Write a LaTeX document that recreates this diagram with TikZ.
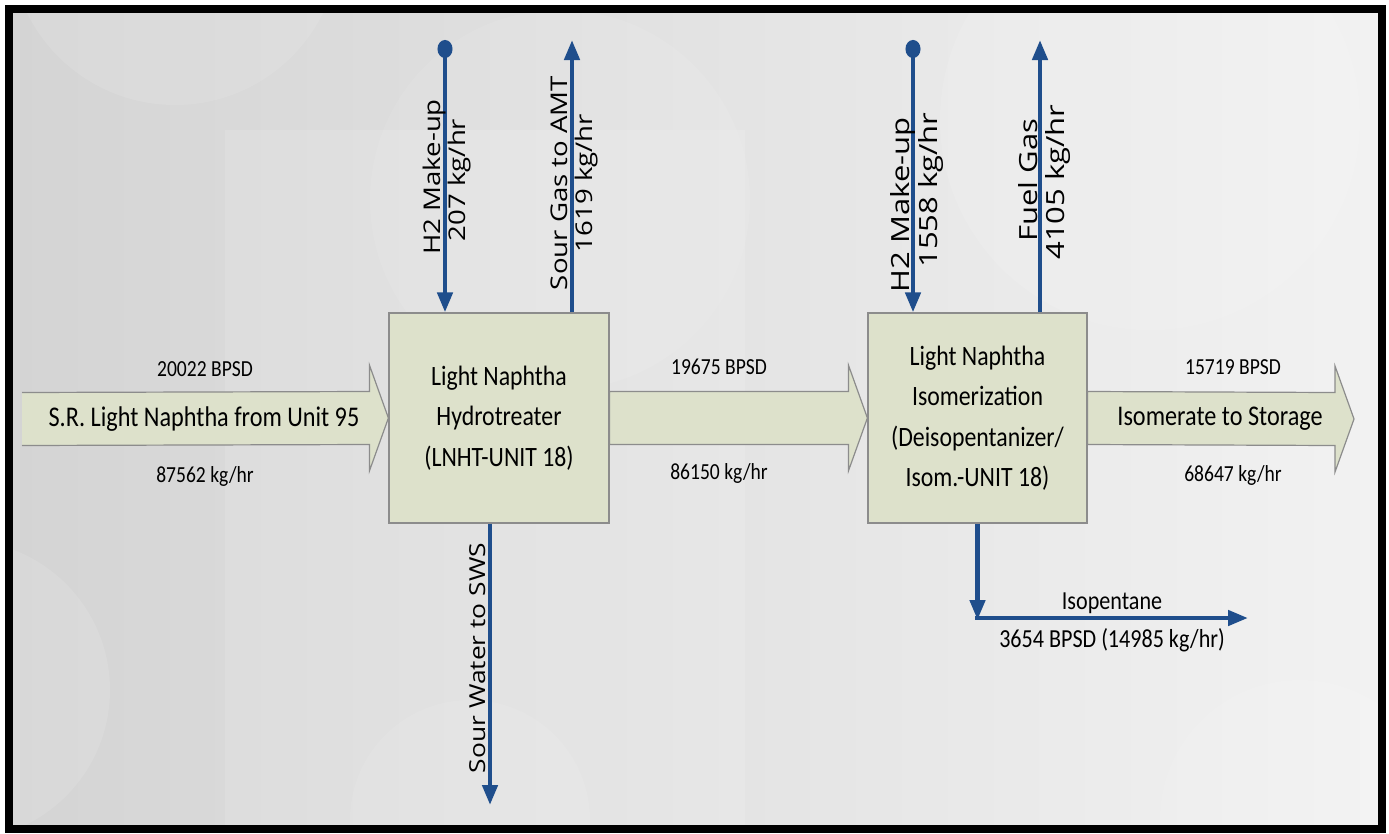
\documentclass[tikz,border=0pt]{standalone}
\usepackage{fontspec}
\setmainfont{Carlito}
\newfontfamily\labfont{Carlito}[FakeStretch=0.85]
\newfontfamily\rotfont{Open Sans}[FakeStretch=1.2]
\newfontfamily\rotfontb{Open Sans}[FakeStretch=1.24]
\usetikzlibrary{arrows.meta,calc}
\definecolor{flowblue}{HTML}{1F4E8C}
\definecolor{boxfill}{HTML}{DDE1CB}
\definecolor{boxline}{HTML}{8C8C8C}
\definecolor{bgdark}{HTML}{D4D4D4}
\definecolor{bglight}{HTML}{F2F2F2}
\begin{document}
\begin{tikzpicture}[x=1pt,y=-1pt,
  unitbox/.style={draw=boxline,fill=boxfill,line width=1.2pt,inner sep=0pt,
    align=center,font=\labfont\fontsize{28}{40.5}\selectfont},
  blockarrow/.style={draw=boxline,fill=boxfill,line width=1.2pt},
  flow/.style={draw=flowblue,line width=4.5pt},
  tipend/.style={-{Triangle[width=15pt,length=20pt]}},
  dotstart/.style={{Circle[width=15pt,length=18pt]}-{Triangle[width=15pt,length=20pt]}},
  qty/.style={font=\labfont\fontsize{23}{27}\selectfont,inner sep=0pt},
  bigqty/.style={font=\labfont\fontsize{26}{30}\selectfont,inner sep=0pt},
  arrowtext/.style={font=\labfont\fontsize{28.5}{32}\selectfont,inner sep=0pt},
  vlabel/.style={rotate=90,anchor=base,inner sep=0pt,font=\rotfont\fontsize{23}{25}\selectfont},
  vlabelbig/.style={rotate=90,anchor=base,inner sep=0pt,font=\rotfontb\fontsize{25}{27}\selectfont}]
\useasboundingbox (0,0) rectangle (1389,833);
% background
\fill[white] (0,0) rectangle (1389,833);
\shade[left color=bgdark,right color=bglight] (9,9) rectangle (1382,829);
\begin{scope}
\clip (9,9) rectangle (1382,829);
\fill[white,opacity=0.10] (175,-60) circle (165);
\fill[white,opacity=0.13] (225,130) rectangle (745,830);
\fill[white,opacity=0.08] (560,200) circle (190);
\fill[white,opacity=0.10] (-40,690) circle (150);
\fill[white,opacity=0.10] (1150,120) circle (210);
\fill[white,opacity=0.08] (1300,820) circle (140);
\fill[white,opacity=0.08] (470,820) circle (120);
\end{scope}
\draw[black,line width=8pt] (9,9) rectangle (1382,829);

% units
\node[unitbox,minimum width=220pt,minimum height=210pt] (b1) at (499,418)
  {Light Naphtha\\Hydrotreater\\(LNHT-UNIT 18)};
\node[unitbox,minimum width=219pt,minimum height=210pt] (b2) at (977.5,418)
  {Light Naphtha\\Isomerization\\(Deisopentanizer/\\Isom.-UNIT 18)};

% free ends
\coordinate (in) at (22,419);
\coordinate (out) at (1354,419);
\coordinate (h2a) at (445,40);
\coordinate (sga) at (572,40);
\coordinate (h2b) at (913,40);
\coordinate (fga) at (1040,40);
\coordinate (swe) at (490,805);
\coordinate (isoc) at (977.5,620);
\coordinate (isoe) at (1248,618);

% block arrows
\fill[boxfill] ($(in)+(0,-26.5)$) -- ($(b1.west)+(-19,-26.5)$) -- ($(b1.west)+(-19,-53)$)
  -- (b1.west) -- ($(b1.west)+(-19,53)$) -- ($(b1.west)+(-19,26.5)$) -- ($(in)+(0,26.5)$) -- cycle;
\draw[blockarrow,fill=none] ($(in)+(0,-26.5)$) -- ($(b1.west)+(-19,-26.5)$) -- ($(b1.west)+(-19,-53)$)
  -- (b1.west) -- ($(b1.west)+(-19,53)$) -- ($(b1.west)+(-19,26.5)$) -- ($(in)+(0,26.5)$);
\filldraw[blockarrow] ($(b1.east)+(0,-26.5)$) -- ($(b2.west)+(-19,-26.5)$) -- ($(b2.west)+(-19,-53)$)
  -- (b2.west) -- ($(b2.west)+(-19,53)$) -- ($(b2.west)+(-19,26.5)$) -- ($(b1.east)+(0,26.5)$) -- cycle;
\filldraw[blockarrow] ($(b2.east)+(0,-26.5)$) -- ($(out)+(-19,-26.5)$) -- ($(out)+(-19,-53)$)
  -- (out) -- ($(out)+(-19,53)$) -- ($(out)+(-19,26.5)$) -- ($(b2.east)+(0,26.5)$) -- cycle;

% blue stream lines
\draw[flow,dotstart] (h2a) -- (h2a |- b1.north);
\draw[flow,tipend] (sga |- b1.north) -- (sga);
\draw[flow,dotstart] (h2b) -- (h2b |- b2.north);
\draw[flow,tipend] (fga |- b2.north) -- (fga);
\draw[flow,tipend] (swe |- b1.south) -- (swe);
\draw[flow,tipend] (b2.south) -- (isoc);
\draw[flow,tipend] ($(isoc)+(-2.25,-2)$) -- (isoe);

% labels
\node[arrowtext] (tin) at (204,419) {S.R. Light Naphtha from Unit 95};
\node[arrowtext] (tout) at (1220,419) {Isomerate to Storage};
\node[qty] (q1) at (205,369) {20022 BPSD};
\node[qty] (q2) at (205,476) {87562 kg/hr};
\node[qty] (q3) at (719,367) {19675 BPSD};
\node[qty] (q4) at (719,473) {86150 kg/hr};
\node[qty] (q5) at (1233,367) {15719 BPSD};
\node[qty] (q6) at (1233,475) {68647 kg/hr};
\node[bigqty] (q7) at (1112,603) {Isopentane};
\node[bigqty] (q8) at (1112,640) {3654 BPSD (14985 kg/hr)};
\node[vlabel] (l1a) at (440,177) {H2 Make-up};
\node[vlabel] (l1b) at (465,180) {207 kg/hr};
\node[vlabel] (l2a) at (567,183) {Sour Gas to AMT};
\node[vlabel] (l2b) at (592,183) {1619 kg/hr};
\node[vlabelbig] (l3a) at (909,205) {H2 Make-up};
\node[vlabelbig] (l3b) at (937,190) {1558 kg/hr};
\node[vlabelbig] (l4a) at (1037,180) {Fuel Gas};
\node[vlabelbig] (l4b) at (1064,182) {4105 kg/hr};
\node[vlabel,font=\rotfont\fontsize{22}{25}\selectfont] (l5) at (485,658) {Sour Water to SWS};
\end{tikzpicture}
\end{document}
